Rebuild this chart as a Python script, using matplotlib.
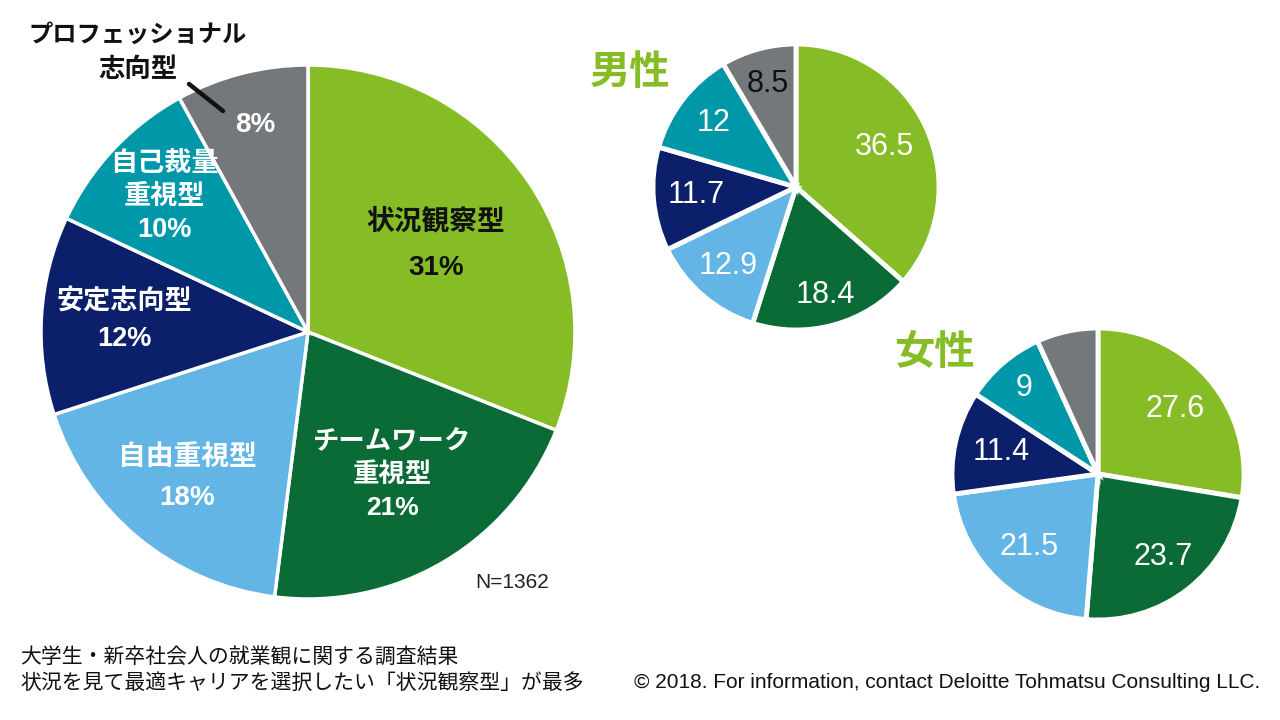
import numpy as np
import matplotlib.pyplot as plt

plt.rcParams['font.family'] = ['Liberation Sans', 'Noto Sans CJK JP', 'DejaVu Sans']

# data
types = ['状況観察型', 'チームワーク\n重視型', '自由重視型', '安定志向型', '自己裁量\n重視型', 'プロフェッショナル\n志向型']
share_all = [31, 21, 18, 12, 10, 8]
share_male = [36.5, 18.4, 12.9, 11.7, 12, 8.5]
share_female = [27.6, 23.7, 21.5, 11.4, 9, 6.8]
male_labels = ['36.5', '18.4', '12.9', '11.7', '12', '8.5']
female_labels = ['27.6', '23.7', '21.5', '11.4', '9', '']

colors = ['#86BC25', '#0A6B36', '#62B5E5', '#0B1F6B', '#0097A9', '#75787B']

W, H = 1280, 720
fig = plt.figure(figsize=(W/100, H/100), dpi=100)
ax = fig.add_axes([0, 0, 1, 1])


def draw_pie(values, cx, cy, r, lw, explode=0.0):
    wedges, _ = ax.pie(values, colors=colors, startangle=90, counterclock=False,
                       center=(cx, H - cy), radius=r,
                       explode=[explode]*len(values),
                       wedgeprops=dict(edgecolor='white', linewidth=lw))
    return wedges


def place(wedge, frac, txt, **kw):
    a = np.deg2rad((wedge.theta1 + wedge.theta2) / 2)
    x0, y0 = wedge.center
    ax.text(x0 + wedge.r*frac*np.cos(a), y0 + wedge.r*frac*np.sin(a), txt,
            ha='center', va='center', **kw)


# main pie
main = draw_pie(share_all, 308, 332, 267, 2.5)
main_frac = [0.58, 0.62, 0.71, 0.69, 0.74, 0.80]
main_col = ['#111111', 'white', 'white', 'white', 'white', 'white']
main_ls = [2.0, 1.45, 1.7, 1.6, 1.35, 1.3]
main_fs = [20, 19, 20, 19.5, 19.5, 20]
for i, w in enumerate(main):
    if i == 5:
        txt = f'{share_all[i]}%'
    else:
        txt = f'{types[i]}\n{share_all[i]}%'
    place(w, main_frac[i], txt, color=main_col[i], fontsize=main_fs[i],
          fontweight='bold', linespacing=main_ls[i])

# outside label for the gray slice
pro1, pro2 = types[5].split('\n')
ax.text(138, H - 35, pro1, ha='center', va='center', fontsize=17.5,
        fontweight='bold', color='#111111')
ax.text(138, H - 70, pro2, ha='center', va='center', fontsize=19,
        fontweight='bold', color='#111111')
ax.annotate('', xy=(223, H - 111), xytext=(189, H - 84),
            arrowprops=dict(arrowstyle='-', color='#111111', lw=3.2,
                            shrinkA=0, shrinkB=0))

# male pie
male = draw_pie(share_male, 796, 187, 143, 3.5, 0.015)
male_frac = [0.68, 0.78, 0.73, 0.70, 0.73, 0.75]
for i, w in enumerate(male):
    place(w, male_frac[i], male_labels[i], fontsize=22,
          color='#111111' if i == 5 else 'white')

# female pie
female = draw_pie(share_female, 1098, 474, 146, 3.5, 0.015)
female_frac = [0.69, 0.72, 0.69, 0.68, 0.78, 0.7]
for i, w in enumerate(female):
    place(w, female_frac[i], female_labels[i], fontsize=22, color='white')

ax.text(630, H - 73, '男性', fontsize=29, fontweight='bold', color='#86BC25',
        ha='center', va='center')
ax.text(934, H - 353, '女性', fontsize=29, fontweight='bold', color='#86BC25',
        ha='center', va='center')

ax.text(512, H - 582, 'N=1362', fontsize=15, ha='center', va='center', color='#222222')

ax.text(20, H - 657, '大学生・新卒社会人の就業観に関する調査結果', fontsize=15,
        ha='left', va='center', color='#111111')
ax.text(20, H - 683, '状況を見て最適キャリアを選択したい「状況観察型」が最多', fontsize=15,
        ha='left', va='center', color='#111111')
ax.text(1260, H - 683, '© 2018. For information, contact Deloitte Tohmatsu Consulting LLC.',
        fontsize=15, ha='right', va='center', color='#111111')

ax.set_xlim(0, W)
ax.set_ylim(0, H)
ax.set_aspect('equal')
ax.axis('off')

fig.savefig('out.png', dpi=100)
